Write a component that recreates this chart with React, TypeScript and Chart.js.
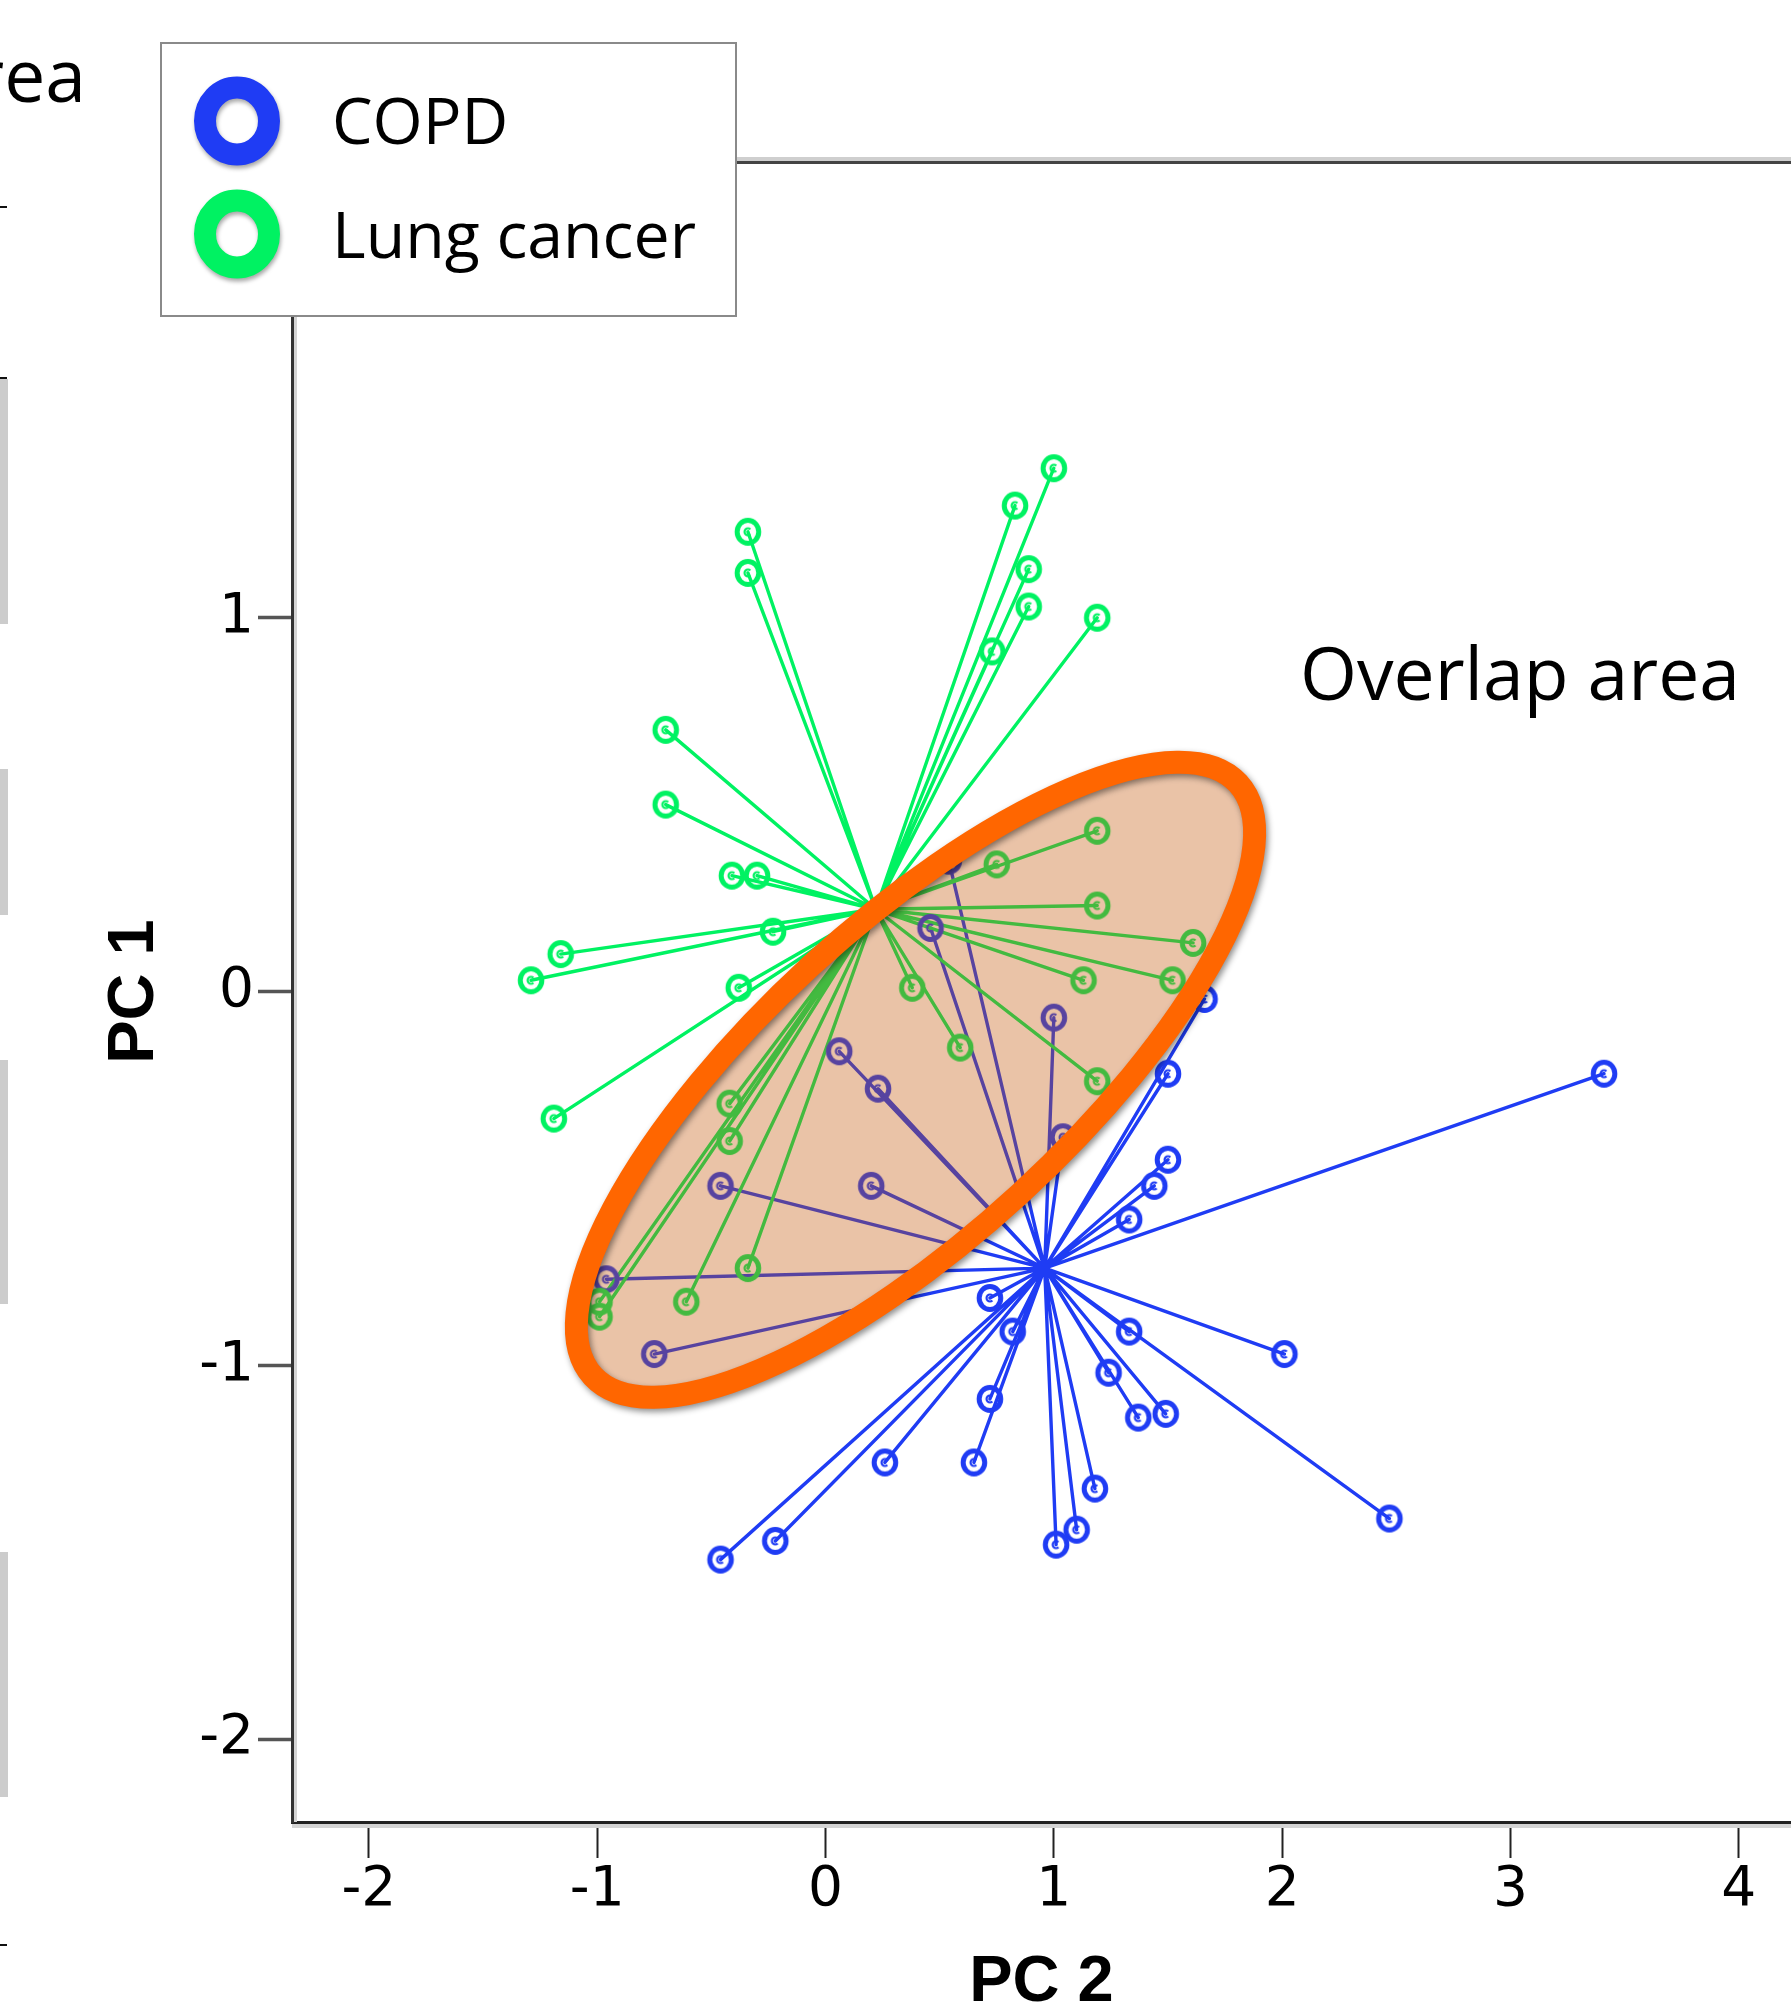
import React, { useEffect, useRef } from "react";
import { Chart, registerables } from "chart.js";

Chart.register(...registerables);

// ---------------- data ----------------
const GROUP_NAMES = ["COPD", "Lung cancer"];
const GROUP_COLORS = ["#1f3cf4", "#00f262"];

// COPD samples: x = PC 2, y = PC 1
const COPD_PC2 = [
  3.41, 1.66, 1.5, 1.5, 1.44, 1.33, 2.01, 1.33, 1.24, 1.37, 1.49, 2.47, 1.18, 1.1, 1.01, 0.65,
  0.72, 0.26, -0.22, -0.46, 0.72, 0.82, 1.04, 0.54, 0.46, 1.0, 0.06, 0.23, -0.46, 0.2, -0.96, -0.75,
];
const COPD_PC1 = [
  -0.22, -0.02, -0.22, -0.45, -0.52, -0.61, -0.97, -0.91, -1.02, -1.14, -1.13, -1.41, -1.33, -1.44, -1.48, -1.26,
  -1.09, -1.26, -1.47, -1.52, -0.82, -0.91, -0.39, 0.35, 0.17, -0.07, -0.16, -0.26, -0.52, -0.52, -0.77, -0.97,
];
const COPD_CENTROID = [0.96, -0.74];

// Lung cancer samples
const LUNG_PC2 = [
  -0.34, -0.34, 1.0, 0.83, 0.89, 0.89, 0.73, 1.19, -0.7, -0.7, -0.41, -0.3, -0.23, -1.16, -1.29, -0.38,
  -1.19, 1.19, 0.75, 1.19, 1.61, 1.13, 1.52, 0.38, 0.59, 1.19, -0.42, -0.42, -0.34, -0.61, -0.99, -0.99,
];
const LUNG_PC1 = [
  1.23, 1.12, 1.4, 1.3, 1.13, 1.03, 0.91, 1.0, 0.7, 0.5, 0.31, 0.31, 0.16, 0.1, 0.03, 0.01,
  -0.34, 0.43, 0.34, 0.23, 0.13, 0.03, 0.03, 0.01, -0.15, -0.24, -0.3, -0.4, -0.74, -0.83, -0.83, -0.87,
];
const LUNG_CENTROID = [0.22, 0.22];

const X_TICKS = [-2, -1, 0, 1, 2, 3, 4];
const Y_TICKS = [-2, -1, 0, 1, 2];
const X_RANGE = [-2.337, 4.229];
const Y_RANGE = [-2.222, 2.222];
const X_TITLE = "PC 2";
const Y_TITLE = "PC 1";

// overlap ellipse, in data units
const ELLIPSE_CENTER = [0.394, -0.236];
const ELLIPSE_MAJOR_END = [1.807, 0.557];
const ELLIPSE_MINOR_END = [0.852, -0.541];
const ANNOTATION = "Overlap area";

// ---------------- layout ----------------
const W = 1791;
const H = 2002;
const PLOT_LEFT = 292;
const PLOT_TOP = 161;
const PLOT_BOTTOM = 1822;
const TEXT_FONT = "'Open Sans', Lato, sans-serif";

function makeMarker(color: string) {
  const c = document.createElement("canvas");
  c.width = 36;
  c.height = 36;
  const g = c.getContext("2d")!;
  g.strokeStyle = color;
  g.lineWidth = 5;
  g.beginPath();
  g.ellipse(18, 18, 10.8, 11.5, 0, 0, Math.PI * 2);
  g.stroke();
  g.lineWidth = 2.2;
  g.beginPath();
  g.arc(18, 18, 3.4, 0.25 * Math.PI, 1.75 * Math.PI);
  g.stroke();
  return c;
}

const points = (xs: number[], ys: number[]) => xs.map((x, i) => ({ x, y: ys[i] }));
const spokes = (xs: number[], ys: number[], c: number[]) =>
  xs.flatMap((x, i) => [
    { x: c[0], y: c[1] },
    { x, y: ys[i] },
  ]);

// draw text scaled so that its width equals the target width
function fitText(ctx: CanvasRenderingContext2D, text: string, x: number, y: number, width: number, align: CanvasTextAlign) {
  ctx.font = `100px ${TEXT_FONT}`;
  const w = ctx.measureText(text).width;
  const size = (100 * width) / w;
  ctx.font = `${size.toFixed(2)}px ${TEXT_FONT}`;
  ctx.textAlign = align;
  ctx.fillText(text, x, y);
}

const framePlugin = {
  id: "frame",
  beforeDatasetsDraw(chart: any) {
    const { ctx, chartArea } = chart;
    ctx.save();
    ctx.fillStyle = "#cfcfcf";
    ctx.fillRect(chartArea.left, chartArea.top - 4, chartArea.right - chartArea.left, 4);
    ctx.fillStyle = "#444";
    ctx.fillRect(chartArea.left, chartArea.top, chartArea.right - chartArea.left, 3);
    ctx.fillStyle = "#d4d4d4";
    ctx.fillRect(chartArea.left + 2, chartArea.top, 3, chartArea.bottom - chartArea.top);
    ctx.fillRect(chartArea.left, chartArea.bottom + 2, chartArea.right - chartArea.left, 4);
    ctx.restore();
  },
};

const ellipsePlugin = {
  id: "overlapEllipse",
  afterDatasetsDraw(chart: any) {
    const { ctx } = chart;
    const xs = chart.scales.x;
    const ys = chart.scales.y;
    const cx = xs.getPixelForValue(ELLIPSE_CENTER[0]);
    const cy = ys.getPixelForValue(ELLIPSE_CENTER[1]);
    const mx = xs.getPixelForValue(ELLIPSE_MAJOR_END[0]) - cx;
    const my = ys.getPixelForValue(ELLIPSE_MAJOR_END[1]) - cy;
    const nx = xs.getPixelForValue(ELLIPSE_MINOR_END[0]) - cx;
    const ny = ys.getPixelForValue(ELLIPSE_MINOR_END[1]) - cy;
    const a = Math.hypot(mx, my);
    const b = Math.hypot(nx, ny);
    const rot = Math.atan2(my, mx);
    ctx.save();
    ctx.beginPath();
    ctx.ellipse(cx, cy, a, b, rot, 0, Math.PI * 2);
    ctx.fillStyle = "rgba(194,81,0,0.345)";
    ctx.fill();
    ctx.shadowColor = "rgba(0,0,0,0.45)";
    ctx.shadowBlur = 6;
    ctx.shadowOffsetX = 2;
    ctx.shadowOffsetY = 3;
    ctx.lineWidth = 23;
    ctx.strokeStyle = "#ff6600";
    ctx.stroke();
    ctx.restore();
  },
};

const overlayPlugin = {
  id: "overlay",
  afterDraw(chart: any) {
    const { ctx } = chart;
    ctx.save();
    // remnants of the neighbouring panel at the left edge
    ctx.fillStyle = "#cccccc";
    [
      [379, 624],
      [769, 915],
      [1060, 1304],
      [1552, 1797],
    ].forEach(([a, b]) => ctx.fillRect(0, a, 8, b - a));
    ctx.fillStyle = "#111";
    [207, 378, 1945].forEach((y) => ctx.fillRect(0, y - 1, 7, 2));

    // annotation text
    ctx.fillStyle = "#000";
    ctx.textBaseline = "alphabetic";
    fitText(ctx, ANNOTATION, 1300, 700, 440, "left");
    fitText(ctx, ANNOTATION, 86, 102, 440, "right");

    // legend box
    ctx.fillStyle = "#fff";
    ctx.fillRect(161, 43, 575, 273);
    ctx.strokeStyle = "#8a8a8a";
    ctx.lineWidth = 2;
    ctx.strokeRect(161, 43, 575, 273);
    GROUP_NAMES.forEach((name, i) => {
      const cy = 121 + i * 113;
      ctx.save();
      ctx.shadowColor = "rgba(0,0,0,0.35)";
      ctx.shadowBlur = 4;
      ctx.shadowOffsetX = 1;
      ctx.shadowOffsetY = 3;
      ctx.strokeStyle = GROUP_COLORS[i];
      ctx.lineWidth = 22;
      ctx.beginPath();
      ctx.ellipse(237, cy, 32, 33.5, 0, 0, Math.PI * 2);
      ctx.stroke();
      ctx.restore();
    });
    ctx.fillStyle = "#000";
    ctx.font = `100px ${TEXT_FONT}`;
    const lungW = ctx.measureText(GROUP_NAMES[1]).width;
    const legendSize = (100 * 364) / lungW;
    ctx.font = `${legendSize.toFixed(2)}px ${TEXT_FONT}`;
    ctx.textAlign = "left";
    GROUP_NAMES.forEach((name, i) => {
      ctx.fillText(name, 332, 144 + i * 114);
    });
    ctx.restore();
  },
};

export default function App() {
  const ref = useRef<HTMLCanvasElement>(null);

  useEffect(() => {
    const canvas = ref.current;
    if (!canvas) return;
    const markers = GROUP_COLORS.map(makeMarker);
    const tickFont = { family: "'DejaVu Sans', sans-serif", size: 55, lineHeight: 1.2 };
    const titleFont = { family: "'Liberation Sans', Arial, sans-serif", size: 65, weight: "bold" as const, lineHeight: 1.2 };

    const chart = new Chart(canvas, {
      type: "scatter",
      data: {
        datasets: [
          {
            label: GROUP_NAMES[1],
            data: points(LUNG_PC2, LUNG_PC1),
            pointStyle: markers[1],
            pointRadius: 13,
            showLine: false,
            order: 0,
          },
          {
            label: GROUP_NAMES[0],
            data: points(COPD_PC2, COPD_PC1),
            pointStyle: markers[0],
            pointRadius: 13,
            showLine: false,
            order: 1,
          },
          {
            label: GROUP_NAMES[1] + " spokes",
            data: spokes(LUNG_PC2, LUNG_PC1, LUNG_CENTROID),
            showLine: true,
            pointRadius: 0,
            borderColor: GROUP_COLORS[1],
            borderWidth: 3.4,
            borderJoinStyle: "round",
            borderCapStyle: "round",
            order: 2,
          },
          {
            label: GROUP_NAMES[0] + " spokes",
            data: spokes(COPD_PC2, COPD_PC1, COPD_CENTROID),
            showLine: true,
            pointRadius: 0,
            borderColor: GROUP_COLORS[0],
            borderWidth: 3.4,
            borderJoinStyle: "round",
            borderCapStyle: "round",
            order: 3,
          },
        ] as any,
      },
      options: {
        responsive: false,
        devicePixelRatio: 1,
        animation: false,
        events: [],
        layout: { autoPadding: false, padding: { left: 0, top: PLOT_TOP, right: 0, bottom: 0 } },
        plugins: { legend: { display: false }, tooltip: { enabled: false } },
        scales: {
          x: {
            type: "linear",
            min: X_RANGE[0],
            max: X_RANGE[1],
            afterBuildTicks: (s: any) => {
              s.ticks = X_TICKS.map((v) => ({ value: v }));
            },
            afterFit: (s: any) => {
              s.height = H - PLOT_BOTTOM;
            },
            ticks: { font: tickFont, color: "#000", padding: 0, maxRotation: 0, autoSkip: false },
            grid: { display: true, drawOnChartArea: false, drawTicks: true, tickLength: 36, tickWidth: 2, tickColor: "#222" },
            border: { display: true, color: "#222", width: 3 },
            title: { display: true, text: X_TITLE, font: titleFont, color: "#000", padding: { top: 0, bottom: -20 } },
          },
          y: {
            type: "linear",
            min: Y_RANGE[0],
            max: Y_RANGE[1],
            afterBuildTicks: (s: any) => {
              s.ticks = Y_TICKS.map((v) => ({ value: v }));
            },
            afterFit: (s: any) => {
              s.width = PLOT_LEFT;
            },
            ticks: { font: tickFont, color: "#000", padding: 4, autoSkip: false },
            grid: { display: true, drawOnChartArea: false, drawTicks: true, tickLength: 34, tickWidth: 3.5, tickColor: "#555" },
            border: { display: true, color: "#333", width: 3 },
            title: { display: true, text: Y_TITLE, font: titleFont, color: "#000", padding: { top: 96, bottom: 0 } },
          },
        },
      } as any,
      plugins: [framePlugin, ellipsePlugin, overlayPlugin],
    });
    return () => chart.destroy();
  }, []);

  return (
    <div style={{ position: "absolute", left: 0, top: 0, width: W, height: H, background: "#fff", overflow: "hidden" }}>
      <canvas ref={ref} width={W} height={H} style={{ display: "block", width: W, height: H }} />
    </div>
  );
}
